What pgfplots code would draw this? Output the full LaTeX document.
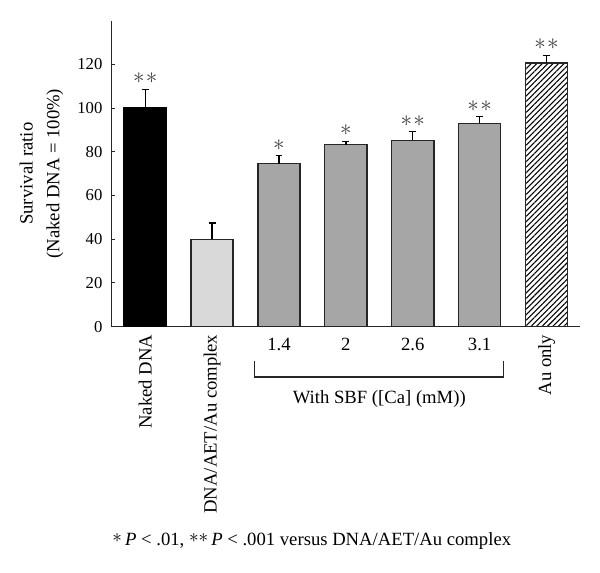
\documentclass[border=0pt]{standalone}
\usepackage{pgfplots}
\pgfplotsset{compat=1.18}
\usepackage{pgfplotstable}
\usepackage{fontspec}
\setmainfont{Liberation Serif}
\usetikzlibrary{patterns.meta}
\definecolor{lightbar}{HTML}{D9D9D9}
\definecolor{midbar}{HTML}{A6A6A6}
\definecolor{edge}{HTML}{262626}

\pgfplotstableread{
x y err
0 100 8.5
}\naked
\pgfplotstableread{
x y err
1 40 7.5
}\complex
\pgfplotstableread{
x y err
2 74.5 3.7
3 83.3 1.4
4 85.3 3.9
5 93.0 3.1
}\sbf
\pgfplotstableread{
x y err
6 120.7 3.4
}\auonly
\pgfplotstableread{
x top
2 78.2
3 84.7
}\onestar
\pgfplotstableread{
x top
0 108.5
4 89.2
5 96.1
6 124.1
}\twostars

\newcommand{\fs}{\fontsize{14}{16}\selectfont}
\newcommand{\fn}{\fontsize{12.5}{15}\selectfont}
\newcommand{\st}{{\fontsize{18}{18}\selectfont$\ast$}}
\newcommand{\stst}{{\fontsize{18}{18}\selectfont$\ast\mkern1mu\ast$}}
\newcommand{\fst}{\raisebox{2.2pt}{\fontsize{15}{15}\selectfont$\ast$}}

\begin{document}
\begin{tikzpicture}
\path[use as bounding box] (0,0) rectangle (450pt,429.75pt);
\begin{axis}[
  at={(83.8pt,184.75pt)}, anchor=south west,
  scale only axis, width=351.2pt, height=229.5pt,
  xmin=-0.5, xmax=6.5, ymin=0, ymax=140,
  axis x line*=bottom, axis y line*=left,
  axis line style={line width=1pt, color=edge, -},
  ytick={0,20,...,120},
  xtick={0,...,6},
  xticklabels={\rotatebox{90}{Naked DNA},\rotatebox{90}{DNA/AET/Au complex},\rule{0pt}{11.5pt}1.4,\rule{0pt}{11.5pt}2,\rule{0pt}{11.5pt}2.6,\rule{0pt}{11.5pt}3.1,\rotatebox{90}{Au only}},
  x tick style={draw=none},
  y tick style={line width=0.8pt, color=edge},
  tick align=inside, major tick length=2.5pt,
  /pgf/number format/assume math mode=true,
  yticklabel style={font=\fn, xshift=-3.5pt},
  xticklabel style={font=\fs, anchor=north},
  ylabel={Survival ratio\\(Naked DNA = 100\%)},
  ylabel style={font=\fontsize{14}{20}\selectfont, align=center, at={([xshift=-52.7pt]axis description cs:0,0.5)}, anchor=center},
  ybar, bar width=0.63, bar shift=0pt,
  clip=false,
  every axis plot/.append style={line width=1pt},
  error bars/y dir=plus, error bars/y explicit,
  error bars/error bar style={line width=1pt, color=black},
  error bars/error mark options={rotate=90, line width=1pt, mark size=2.6pt, color=black},
]
\addplot[fill=black, draw=black] table[x=x, y=y, y error=err] {\naked};
\addplot[fill=lightbar, draw=edge] table[x=x, y=y, y error=err] {\complex};
\addplot[fill=midbar, draw=edge] table[x=x, y=y, y error=err] {\sbf};
\addplot[fill=white, draw=edge, postaction={pattern={Lines[angle=45, distance=2.9pt, line width=0.8pt]}, pattern color=black}] table[x=x, y=y, y error=err] {\auonly};
\addplot[draw=none, fill=none, forget plot, error bars/y dir=none,
  nodes near coords={\st},
  every node near coord/.append style={anchor=center, yshift=8.2pt, color=black!75, inner sep=0pt}]
  table[x=x, y=top] {\onestar};
\addplot[draw=none, fill=none, forget plot, error bars/y dir=none,
  nodes near coords={\stst},
  every node near coord/.append style={anchor=center, yshift=8.2pt, color=black!75, inner sep=0pt}]
  table[x=x, y=top] {\twostars};
\draw[line width=0.9pt, color=edge] ([yshift=-25.5pt]axis cs:1.64,0) -- ([yshift=-37.7pt]axis cs:1.64,0) -- ([yshift=-37.7pt]axis cs:5.36,0) -- ([yshift=-25.5pt]axis cs:5.36,0);
\node[font=\fs] at ([yshift=-54.2pt]axis cs:3.5,0) {With SBF ([Ca] (mM))};
\node[font=\fs] at ([yshift=-161pt]axis cs:2.49,0) {\fst\,\textit{P} < .01, \fst\fst\,\textit{P} < .001 versus DNA/AET/Au complex};
\end{axis}
\end{tikzpicture}
\end{document}
